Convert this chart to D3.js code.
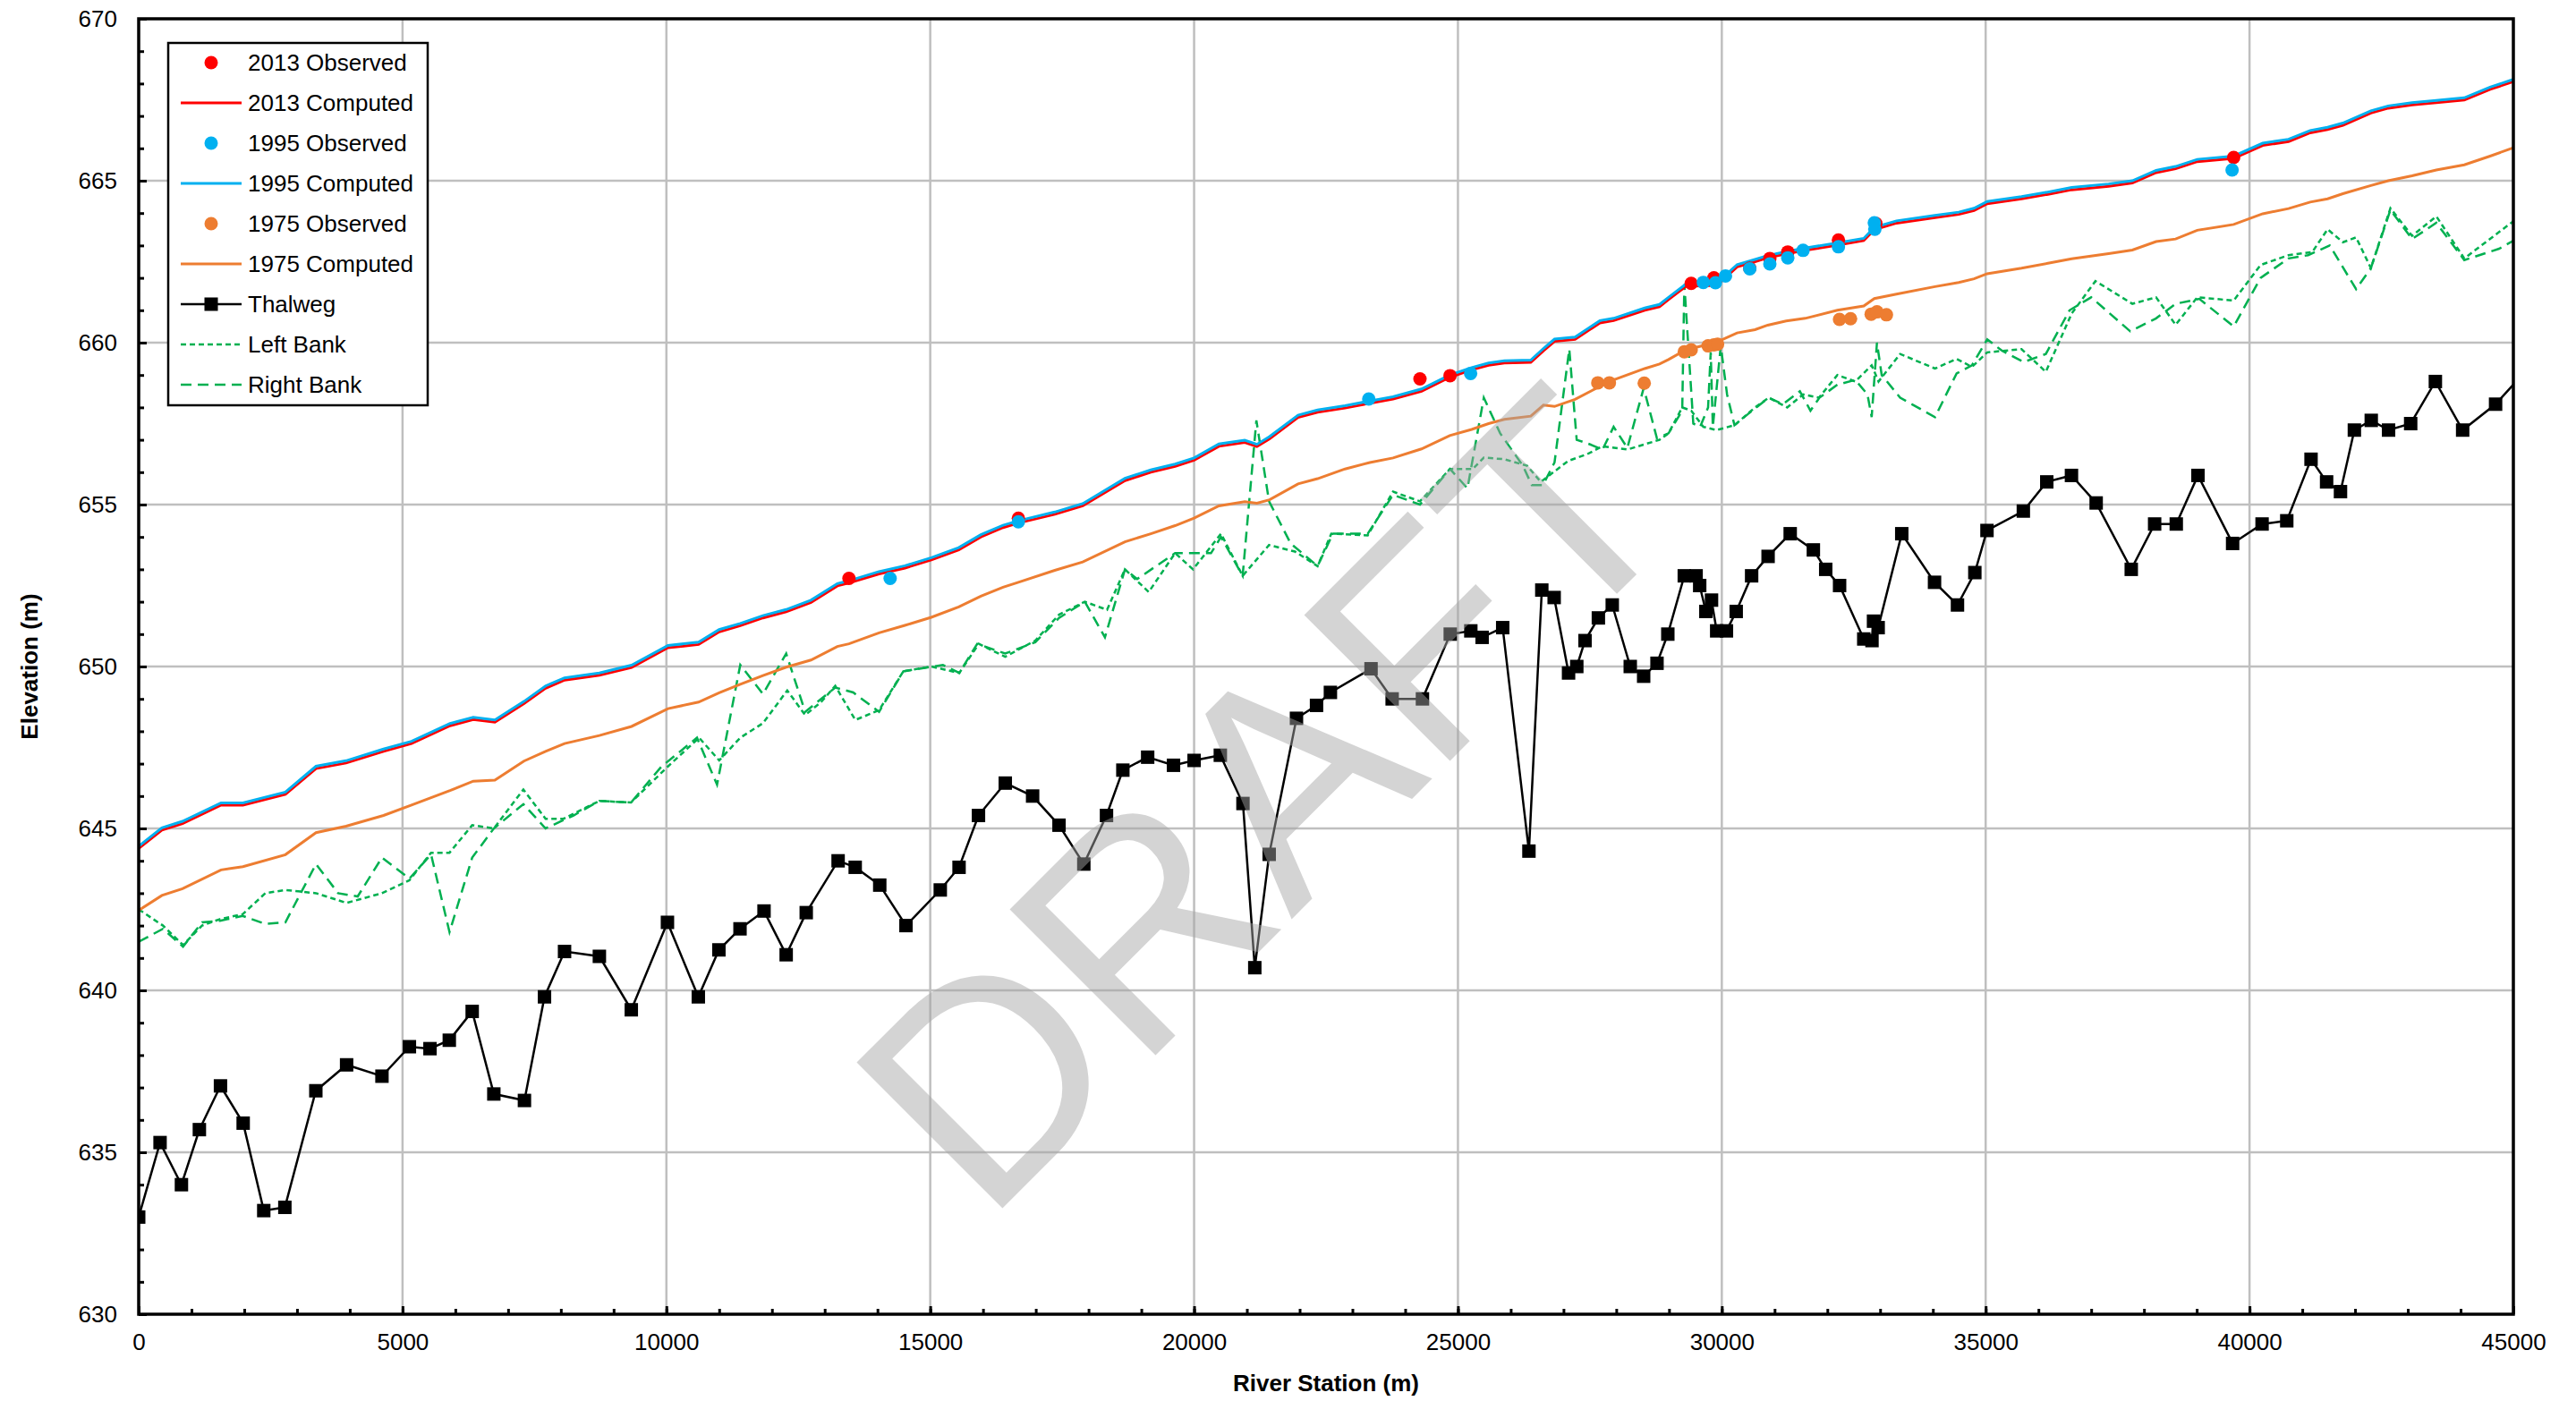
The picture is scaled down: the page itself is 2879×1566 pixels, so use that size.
<!DOCTYPE html>
<html>
<head>
<meta charset="utf-8">
<script src="https://cdn.jsdelivr.net/npm/d3@7"></script>
<style>
body { margin: 0; background: #fff; }
text { font-family: "Liberation Sans", Arial, sans-serif; }
</style>
</head>
<body>
<svg id="chart" width="2879" height="1566"></svg>
<script>
// cross section stations used by the computed profiles (m)
var stations = [0, 440, 830, 1560, 1975, 2780, 3360, 3930, 4640, 5170,
    5900, 6340, 6750, 7300, 7710, 8070, 8730, 9340, 10030, 10610,
    11000, 11400, 11830, 12270, 12740, 13240, 13460, 14030, 14520, 15020,
    15540, 15960, 16380, 16670, 17360, 17890, 18690, 19180, 19640, 20000,
    20470, 20960, 21190, 21430, 21970, 22340, 22860, 23330, 23770, 24310,
    24845, 25260, 25580, 25880, 26380, 26620, 26830, 27220, 27690, 27950,
    28540, 28820, 28990, 29320, 29770, 29980, 30290, 30630, 30870, 31220,
    31580, 32190, 32690, 32890, 33310, 34040, 34490, 34780, 35030, 35680,
    36180, 36630, 37330, 37780, 38230, 38600, 39010, 39700, 40250, 40740,
    41150, 41480, 41770, 42300, 42630, 43080, 43540, 44070, 44560, 45000]

var comp2013 = [644.38, 644.95, 645.15, 645.72, 645.72, 646.05, 646.85, 647.02, 647.38, 647.62,
    648.17, 648.36, 648.28, 648.85, 649.33, 649.58, 649.73, 649.97, 650.58, 650.68,
    651.07, 651.26, 651.5, 651.69, 651.98, 652.49, 652.58, 652.86, 653.04, 653.29,
    653.6, 654.0, 654.29, 654.43, 654.7, 654.96, 655.74, 656.0, 656.18, 656.37,
    656.8, 656.92, 656.79, 657.03, 657.69, 657.85, 657.98, 658.13, 658.26, 658.5,
    658.93, 659.16, 659.3, 659.37, 659.39, 659.75, 660.04, 660.1, 660.61, 660.68,
    661.0, 661.11, 661.33, 661.74, 661.76, 661.88, 662.34, 662.5, 662.62, 662.74,
    662.85, 663.01, 663.15, 663.49, 663.69, 663.86, 663.96, 664.08, 664.29, 664.44,
    664.58, 664.72, 664.83, 664.93, 665.25, 665.37, 665.59, 665.69, 666.09, 666.21,
    666.48, 666.58, 666.71, 667.09, 667.24, 667.34, 667.41, 667.49, 667.82, 668.06]

var comp1995 = [644.45, 645.02, 645.22, 645.79, 645.79, 646.12, 646.92, 647.09, 647.45, 647.69,
    648.24, 648.43, 648.35, 648.92, 649.4, 649.65, 649.8, 650.04, 650.65, 650.75,
    651.14, 651.33, 651.57, 651.76, 652.05, 652.56, 652.65, 652.93, 653.11, 653.36,
    653.67, 654.07, 654.36, 654.5, 654.77, 655.03, 655.81, 656.07, 656.25, 656.44,
    656.87, 656.99, 656.86, 657.1, 657.76, 657.92, 658.05, 658.2, 658.33, 658.57,
    659.0, 659.23, 659.37, 659.44, 659.46, 659.82, 660.11, 660.17, 660.68, 660.75,
    661.07, 661.18, 661.4, 661.81, 661.83, 661.95, 662.41, 662.57, 662.69, 662.81,
    662.92, 663.08, 663.22, 663.56, 663.76, 663.93, 664.03, 664.15, 664.36, 664.51,
    664.65, 664.79, 664.9, 665.0, 665.32, 665.44, 665.66, 665.76, 666.16, 666.28,
    666.55, 666.65, 666.78, 667.16, 667.31, 667.41, 667.48, 667.56, 667.89, 668.13]

var comp1975 = [642.47, 642.93, 643.14, 643.72, 643.82, 644.19, 644.87, 645.07, 645.4, 645.72,
    646.17, 646.46, 646.49, 647.08, 647.38, 647.62, 647.87, 648.15, 648.7, 648.9,
    649.19, 649.45, 649.72, 649.98, 650.2, 650.62, 650.7, 651.04, 651.27, 651.52,
    651.84, 652.17, 652.45, 652.6, 652.97, 653.23, 653.85, 654.1, 654.35, 654.58,
    654.96, 655.09, 655.04, 655.15, 655.64, 655.8, 656.1, 656.3, 656.44, 656.72,
    657.13, 657.32, 657.5, 657.63, 657.73, 658.07, 658.03, 658.25, 658.65, 658.85,
    659.2, 659.34, 659.48, 659.78, 659.96, 660.07, 660.3, 660.4, 660.54, 660.67,
    660.75, 661.0, 661.13, 661.36, 661.5, 661.73, 661.86, 661.97, 662.13, 662.3,
    662.45, 662.59, 662.75, 662.86, 663.12, 663.2, 663.47, 663.65, 663.98, 664.14,
    664.34, 664.44, 664.6, 664.85, 665.0, 665.15, 665.33, 665.49, 665.76, 666.02]

// observed water surface [station, elevation]
var obs2013 = [[13460, 652.72], [16670, 654.58], [24280, 658.88], [24850, 658.98], [29420, 661.83],
    [29850, 662.0], [30530, 662.3], [30910, 662.6], [31250, 662.8], [32210, 663.17],
    [32920, 663.68], [39700, 665.72]]

var obs1995 = [[14240, 652.72], [16670, 654.47], [23310, 658.26], [25240, 659.05], [29650, 661.86],
    [29880, 661.85], [30070, 662.06], [30530, 662.28], [30910, 662.43], [31250, 662.62],
    [31540, 662.85], [32210, 662.96], [32890, 663.7], [32900, 663.5], [39670, 665.33]]

var obs1975 = [[27650, 658.76], [27870, 658.76], [28530, 658.75], [29290, 659.72], [29420, 659.78],
    [29740, 659.9], [29850, 659.93], [29920, 659.95], [32230, 660.72], [32440, 660.74],
    [32830, 660.88], [32940, 660.95], [33120, 660.86]]

var thalweg = [[0, 633.0], [405, 635.3], [810, 634.0], [1150, 635.7], [1550, 637.05], [1980, 635.9],
    [2370, 633.2], [2770, 633.3], [3357, 636.9], [3940, 637.7], [4610, 637.35], [5130, 638.26],
    [5520, 638.2], [5886, 638.46], [6320, 639.35], [6730, 636.8], [7310, 636.6], [7690, 639.8],
    [8070, 641.2], [8730, 641.05], [9335, 639.4], [10020, 642.1], [10605, 639.8], [10995, 641.25],
    [11395, 641.9], [11850, 642.45], [12270, 641.1], [12650, 642.4], [13254, 644.0], [13578, 643.8],
    [14043, 643.25], [14540, 642.0], [15190, 643.1], [15546, 643.8], [15914, 645.4], [16422, 646.4],
    [16940, 646.0], [17440, 645.1], [17910, 643.9], [18340, 645.4], [18650, 646.8], [19120, 647.2],
    [19610, 646.95], [20000, 647.1], [20497, 647.26], [20926, 645.77], [21150, 640.7], [21423, 644.2],
    [21940, 648.4], [22320, 648.8], [22583, 649.2], [23353, 649.93], [23753, 649.0], [24327, 649.0],
    [24854, 651.0], [25244, 651.1], [25458, 650.9], [25848, 651.2], [26345, 644.3], [26589, 652.36],
    [26823, 652.13], [27096, 649.8], [27252, 650.0], [27408, 650.8], [27661, 651.5], [27924, 651.9],
    [28265, 650.0], [28519, 649.7], [28772, 650.1], [28977, 651.0], [29289, 652.8], [29513, 652.8],
    [29581, 652.5], [29698, 651.7], [29805, 652.05], [29903, 651.1], [30088, 651.1], [30273, 651.7],
    [30565, 652.8], [30877, 653.4], [31296, 654.1], [31735, 653.6], [31969, 653.0], [32232, 652.5],
    [32690, 650.85], [32846, 650.8], [32875, 651.4], [32963, 651.2], [33410, 654.1], [34031, 652.6],
    [34466, 651.9], [34795, 652.9], [35025, 654.2], [35714, 654.8], [36158, 655.7], [36626, 655.9],
    [37094, 655.05], [37759, 653.0], [38202, 654.4], [38612, 654.4], [39023, 655.9], [39680, 653.8],
    [40238, 654.4], [40706, 654.5], [41166, 656.4], [41461, 655.7], [41724, 655.4], [41987, 657.3],
    [42307, 657.6], [42635, 657.3], [43054, 657.5], [43522, 658.8], [44039, 657.3], [44663, 658.1],
    [45330, 659.3]]

var leftBank = [[0, 642.5], [460, 642.0], [840, 641.4], [1200, 642.0], [1540, 642.2], [1970, 642.35],
    [2400, 643.0], [2780, 643.1], [3360, 643.0], [3940, 642.7], [4610, 643.0], [5130, 643.4],
    [5540, 644.25], [5890, 644.25], [6320, 645.1], [6730, 645.0], [7290, 646.2], [7710, 645.3],
    [8050, 645.3], [8730, 645.85], [9330, 645.8], [10020, 646.9], [10620, 647.8], [11000, 647.1],
    [11400, 647.8], [11830, 648.25], [12290, 649.26], [12630, 648.5], [12930, 648.9], [13200, 649.4],
    [13580, 648.35], [14030, 648.65], [14490, 649.85], [15020, 650.0], [15550, 649.8], [15920, 650.7],
    [16420, 650.3], [16990, 650.8], [17440, 651.6], [17930, 652.0], [18350, 651.75], [18690, 653.0],
    [19140, 652.3], [19640, 653.5], [19980, 653.0], [20510, 654.1], [20920, 652.8], [21420, 653.75],
    [21910, 653.55], [22340, 653.1], [22600, 654.1], [23290, 654.05], [23770, 655.4], [24280, 655.1],
    [24850, 656.1], [25280, 656.1], [25490, 656.45], [25880, 656.4], [26310, 656.2], [26570, 655.7],
    [27090, 656.35], [27440, 656.55], [27740, 656.8], [28210, 656.7], [28820, 657.0], [28990, 657.2],
    [29250, 658.0], [29420, 657.9], [29650, 657.4], [29900, 657.3], [30240, 657.45], [30630, 658.0],
    [30890, 658.3], [31240, 658.0], [31540, 658.4], [31840, 658.3], [32190, 659.0], [32530, 658.8],
    [32840, 659.3], [32970, 658.8], [33380, 659.65], [34040, 659.2], [34450, 659.5], [34740, 659.25],
    [35030, 659.7], [35680, 659.8], [36140, 659.1], [36630, 660.9], [37080, 661.9], [37780, 661.2],
    [38230, 661.4], [38600, 660.55], [39010, 661.4], [39700, 661.3], [40210, 662.4], [40740, 662.7],
    [41190, 662.8], [41480, 663.5], [41770, 663.1], [42020, 663.25], [42300, 662.3], [42670, 664.15],
    [43080, 663.3], [43540, 663.9], [44070, 662.6], [45000, 663.75]]

var rightBank = [[0, 641.5], [460, 641.9], [840, 641.35], [1200, 642.1], [1540, 642.15], [1970, 642.3],
    [2400, 642.05], [2780, 642.1], [3360, 643.9], [3780, 643.0], [4150, 642.9], [4610, 644.1],
    [5130, 643.45], [5540, 644.2], [5890, 641.8], [6320, 644.1], [6730, 645.0], [7290, 645.75],
    [7710, 645.0], [8240, 645.4], [8730, 645.85], [9330, 645.8], [9900, 646.9], [10580, 647.8],
    [10960, 646.35], [11400, 650.05], [11830, 649.15], [12270, 650.4], [12630, 648.6], [13200, 649.35],
    [13540, 649.2], [14030, 648.6], [14490, 649.85], [15240, 650.05], [15550, 649.8], [15890, 650.7],
    [16420, 650.4], [16990, 650.75], [17440, 651.5], [17930, 652.0], [18310, 650.9], [18690, 653.0],
    [18920, 652.7], [19640, 653.5], [20320, 653.5], [20510, 654.0], [20920, 652.8], [21180, 657.6],
    [21420, 655.1], [21830, 653.8], [22340, 653.1], [22630, 654.1], [23290, 654.1], [23770, 655.3],
    [24280, 655.0], [24850, 656.1], [25180, 655.5], [25490, 658.3], [25800, 657.2], [26230, 656.2],
    [26400, 655.6], [26610, 655.6], [26830, 656.3], [27110, 659.8], [27250, 657.0], [27440, 656.9],
    [27740, 656.7], [27950, 657.4], [28210, 656.75], [28520, 658.6], [28770, 657.05], [28990, 657.2],
    [29250, 657.9], [29290, 661.8], [29460, 657.5], [29590, 657.4], [29740, 658.0], [29790, 659.7],
    [29830, 657.4], [29980, 659.9], [30100, 658.4], [30240, 657.45], [30500, 657.8], [30890, 658.3],
    [31160, 658.1], [31480, 658.5], [31680, 657.9], [31850, 658.3], [32190, 658.7], [32530, 658.85],
    [32760, 658.4], [32840, 657.7], [32940, 660.0], [33030, 659.0], [33380, 658.3], [34040, 657.7],
    [34450, 659.05], [34740, 659.3], [35030, 660.1], [35310, 659.75], [35720, 659.4], [36140, 659.65],
    [36590, 661.0], [37000, 661.4], [37740, 660.35], [38230, 660.75], [38600, 661.2], [39050, 661.35],
    [39700, 660.5], [40210, 662.0], [40740, 662.6], [41110, 662.7], [41520, 663.0], [42020, 661.65],
    [42300, 662.3], [42670, 664.1], [43080, 663.2], [43540, 663.7], [44070, 662.55], [44730, 662.9],
    [45000, 663.15]]

var xTicks = [0, 5000, 10000, 15000, 20000, 25000, 30000, 35000, 40000, 45000]
var yTicks = [630, 635, 640, 645, 650, 655, 660, 665, 670]
var legendNames = ['2013 Observed', '2013 Computed', '1995 Observed', '1995 Computed',
    '1975 Observed', '1975 Computed', 'Thalweg', 'Left Bank', 'Right Bank']

// plot frame in pixels ("top" is taken by window.top, so use other names)
var plotL = 155, plotR = 2809, plotT = 21, plotB = 1469
var svg = d3.select('#chart')

var x = d3.scaleLinear().domain([0, 45000]).range([plotL, plotR])
var y = d3.scaleLinear().domain([630, 670]).range([plotB, plotT])

svg.append('rect').attr('width', 2879).attr('height', 1566).attr('fill', '#fff')

// gridlines
svg.append('g')
    .selectAll('line')
    .data(xTicks.slice(1, -1))
    .join('line')
    .attr('x1', function(d) { return x(d) })
    .attr('x2', function(d) { return x(d) })
    .attr('y1', plotT)
    .attr('y2', plotB)
    .attr('stroke', '#bfbfbf')
    .attr('stroke-width', 2.5)

svg.append('g')
    .selectAll('line')
    .data(yTicks.slice(1, -1))
    .join('line')
    .attr('x1', plotL)
    .attr('x2', plotR)
    .attr('y1', function(d) { return y(d) })
    .attr('y2', function(d) { return y(d) })
    .attr('stroke', '#bfbfbf')
    .attr('stroke-width', 2.5)

svg.append('clipPath').attr('id', 'plotclip')
    .append('rect')
    .attr('x', plotL).attr('y', plotT)
    .attr('width', plotR - plotL).attr('height', plotB - plotT)

var plot = svg.append('g').attr('clip-path', 'url(#plotclip)')

var line = d3.line()
    .x(function(d) { return x(d[0]) })
    .y(function(d) { return y(d[1]) })

// banks
plot.append('path')
    .datum(rightBank)
    .attr('d', line)
    .attr('fill', 'none')
    .attr('stroke', '#00b050')
    .attr('stroke-width', 2.5)
    .attr('stroke-dasharray', '12,7')

plot.append('path')
    .datum(leftBank)
    .attr('d', line)
    .attr('fill', 'none')
    .attr('stroke', '#00b050')
    .attr('stroke-width', 2.5)
    .attr('stroke-dasharray', '6,4')

// computed profiles
var computed = [
    {vals: comp1975, color: '#ed7d31'},
    {vals: comp2013, color: '#ff0000'},
    {vals: comp1995, color: '#00b0f0'}
]
computed.forEach(function(c) {
    plot.append('path')
        .datum(d3.zip(stations, c.vals))
        .attr('d', line)
        .attr('fill', 'none')
        .attr('stroke', c.color)
        .attr('stroke-width', 3)
})

// thalweg
plot.append('path')
    .datum(thalweg)
    .attr('d', line)
    .attr('fill', 'none')
    .attr('stroke', '#000')
    .attr('stroke-width', 2.5)

plot.append('g')
    .selectAll('rect')
    .data(thalweg)
    .join('rect')
    .attr('x', function(d) { return x(d[0]) - 7.5 })
    .attr('y', function(d) { return y(d[1]) - 7.5 })
    .attr('width', 15)
    .attr('height', 15)
    .attr('fill', '#000')

// observed points
var observed = [
    {pts: obs2013, color: '#ff0000'},
    {pts: obs1995, color: '#00b0f0'},
    {pts: obs1975, color: '#ed7d31'}
]
observed.forEach(function(o) {
    plot.append('g')
        .selectAll('circle')
        .data(o.pts)
        .join('circle')
        .attr('cx', function(d) { return x(d[0]) })
        .attr('cy', function(d) { return y(d[1]) })
        .attr('r', 7.5)
        .attr('fill', o.color)
})

// axes, ticks point inward
svg.append('g')
    .attr('transform', 'translate(0,' + plotB + ')')
    .call(d3.axisBottom(x).tickValues(xTicks).tickSize(-9).tickPadding(22).tickFormat(d3.format('d')))
svg.append('g')
    .attr('transform', 'translate(0,' + plotB + ')')
    .call(d3.axisBottom(x).tickValues(d3.range(1000, 45000, 1000)).tickSize(-6).tickFormat(''))
    .call(function(g) { g.select('.domain').remove() })

svg.append('g')
    .attr('transform', 'translate(' + plotL + ',0)')
    .call(d3.axisLeft(y).tickValues(yTicks).tickSize(-9).tickPadding(24))
svg.append('g')
    .attr('transform', 'translate(' + plotL + ',0)')
    .call(d3.axisLeft(y).tickValues(d3.range(631, 670, 1)).tickSize(-6).tickFormat(''))
    .call(function(g) { g.select('.domain').remove() })

svg.selectAll('.tick line').attr('stroke', '#000').attr('stroke-width', 3)
svg.selectAll('.tick text').attr('font-size', 26).attr('fill', '#000')
    .style('font-family', '"Liberation Sans", Arial, sans-serif')
svg.selectAll('.domain').attr('stroke', 'none')

svg.append('rect')
    .attr('x', plotL).attr('y', plotT)
    .attr('width', plotR - plotL).attr('height', plotB - plotT)
    .attr('fill', 'none')
    .attr('stroke', '#000')
    .attr('stroke-width', 3.5)

// axis titles
svg.append('text')
    .attr('x', (plotL + plotR) / 2)
    .attr('y', 1555)
    .attr('text-anchor', 'middle')
    .attr('font-size', 26)
    .attr('font-weight', 'bold')
    .text('River Station (m)')

svg.append('text')
    .attr('transform', 'translate(42,' + (plotT + plotB) / 2 + ') rotate(-90)')
    .attr('text-anchor', 'middle')
    .attr('font-size', 26)
    .attr('font-weight', 'bold')
    .text('Elevation (m)')

// legend
var legend = svg.append('g')
legend.append('rect')
    .attr('x', 188).attr('y', 48)
    .attr('width', 290).attr('height', 405)
    .attr('fill', '#fff')
    .attr('stroke', '#000')
    .attr('stroke-width', 2.5)

var legendStyle = [
    {kind: 'dot', color: '#ff0000'},
    {kind: 'line', color: '#ff0000'},
    {kind: 'dot', color: '#00b0f0'},
    {kind: 'line', color: '#00b0f0'},
    {kind: 'dot', color: '#ed7d31'},
    {kind: 'line', color: '#ed7d31'},
    {kind: 'square', color: '#000'},
    {kind: 'dash', color: '#00b050', dash: '6,4'},
    {kind: 'dash', color: '#00b050', dash: '12,7'}
]
legendNames.forEach(function(name, i) {
    var ly = 70 + i * 45
    var s = legendStyle[i]
    if (s.kind != 'dot') {
        legend.append('line')
            .attr('x1', 202).attr('x2', 270)
            .attr('y1', ly).attr('y2', ly)
            .attr('stroke', s.color)
            .attr('stroke-width', s.kind == 'line' ? 3 : 2.5)
            .attr('stroke-dasharray', s.dash || null)
    }
    if (s.kind == 'dot') {
        legend.append('circle').attr('cx', 236).attr('cy', ly).attr('r', 7.5).attr('fill', s.color)
    }
    if (s.kind == 'square') {
        legend.append('rect').attr('x', 228.5).attr('y', ly - 7.5).attr('width', 15).attr('height', 15).attr('fill', '#000')
    }
    legend.append('text')
        .attr('x', 277)
        .attr('y', ly)
        .attr('dy', '0.36em')
        .attr('font-size', 26)
        .text(name)
})

// watermark
svg.append('text')
    .attr('transform', 'translate(1101,1370) rotate(-45)')
    .attr('font-size', 335)
    .attr('fill', '#a6a6a6')
    .attr('opacity', 0.48)
    .text('DRAFT')
</script>
</body>
</html>
